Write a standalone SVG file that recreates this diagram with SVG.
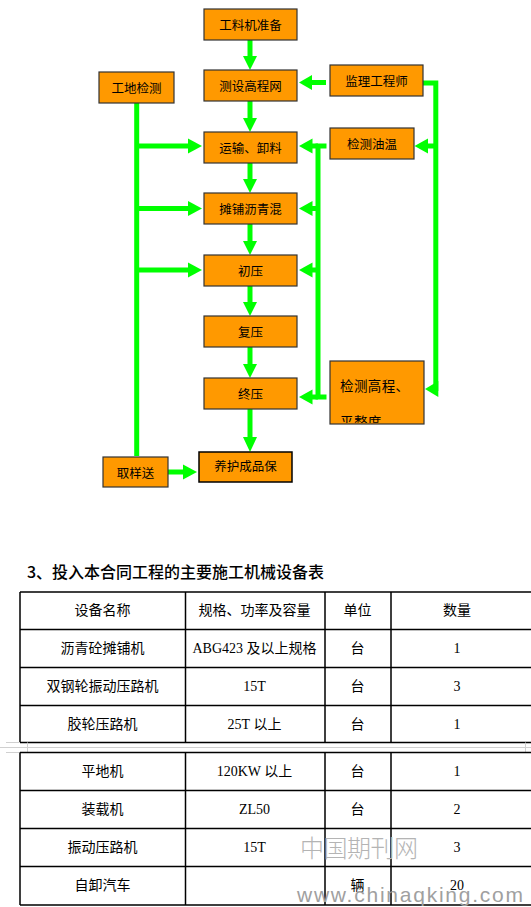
<svg xmlns="http://www.w3.org/2000/svg" width="531" height="907" viewBox="0 0 531 907">
<defs>
<style>
.box{fill:#FF9900;stroke:#333;stroke-width:1.2}
.bt{font-family:"Noto Sans CJK SC","Noto Sans",sans-serif;font-size:12.5px;fill:#000;text-anchor:middle;dominant-baseline:central}
.ln{stroke:#00FF00;stroke-width:5;fill:none}
.ah{fill:#00FF00}
.tb{stroke:#000;stroke-width:1.5;fill:none}
.gr{stroke:#d0d0d0;stroke-width:1;fill:none}
.tt{font-family:"Liberation Serif","Noto Sans CJK SC",serif;font-size:14px;fill:#000;text-anchor:middle;dominant-baseline:central}
</style>
<clipPath id="c1"><rect x="330" y="361" width="94" height="62"/></clipPath>
</defs>
<rect width="531" height="907" fill="#fff"/>

<g id="connectors">
<!-- center flow -->
<line class="ln" x1="250" y1="40" x2="250" y2="58"/><polygon class="ah" points="243,56 257,56 250,70"/>
<line class="ln" x1="250" y1="101" x2="250" y2="120"/><polygon class="ah" points="243,118 257,118 250,132"/>
<line class="ln" x1="250" y1="163" x2="250" y2="181"/><polygon class="ah" points="243,179 257,179 250,193"/>
<line class="ln" x1="250" y1="224" x2="250" y2="243"/><polygon class="ah" points="243,241 257,241 250,255"/>
<line class="ln" x1="250" y1="286" x2="250" y2="304"/><polygon class="ah" points="243,302 257,302 250,316"/>
<line class="ln" x1="250" y1="347" x2="250" y2="366"/><polygon class="ah" points="243,364 257,364 250,378"/>
<line class="ln" x1="250" y1="409" x2="250" y2="440"/><polygon class="ah" points="243,437 257,437 250,452"/>
<!-- left vertical -->
<line class="ln" x1="136.7" y1="103" x2="136.7" y2="456"/>
<line class="ln" x1="136.7" y1="146" x2="190" y2="146"/><polygon class="ah" points="188,138.5 188,153.5 202,146"/>
<line class="ln" x1="136.7" y1="208.5" x2="190" y2="208.5"/><polygon class="ah" points="188,201 188,216 202,208.5"/>
<line class="ln" x1="136.7" y1="270" x2="190" y2="270"/><polygon class="ah" points="188,262.5 188,277.5 202,270"/>
<!-- 取样送 to 养护 -->
<line class="ln" x1="168" y1="472" x2="185" y2="472"/><polygon class="ah" points="183,464.5 183,479.5 197,472"/>
<!-- 监理 to 测设 -->
<line class="ln" x1="326" y1="82.5" x2="310" y2="82.5"/><polygon class="ah" points="312,75 312,90 299,82.5"/>
<!-- 监理 right vertical -->
<polyline class="ln" points="423,83 435.8,83 435.8,391"/>
<line class="ln" x1="435.8" y1="146" x2="426" y2="146"/><polygon class="ah" points="428,138.5 428,153.5 414.5,146"/>
<polygon class="ah" points="438.3,381 438.3,397 425,389"/>
<!-- middle vertical -->
<polyline class="ln" points="326.5,146 318,146 318,397 326.5,397"/>
<line class="ln" x1="318" y1="146" x2="310" y2="146"/><polygon class="ah" points="312.5,138.5 312.5,153.5 299,146"/>
<line class="ln" x1="318" y1="208.5" x2="310" y2="208.5"/><polygon class="ah" points="312.5,201 312.5,216 299,208.5"/>
<line class="ln" x1="318" y1="270" x2="310" y2="270"/><polygon class="ah" points="312.5,262.5 312.5,277.5 299,270"/>
<line class="ln" x1="318" y1="397" x2="310" y2="397"/><polygon class="ah" points="312.5,389.5 312.5,404.5 299,397"/>
</g>

<g id="n1"><rect class="box" x="204" y="9" width="93" height="31"/><text class="bt" x="250.5" y="24.5">工料机准备</text></g>
<g id="n2"><rect class="box" x="204" y="70" width="93" height="31"/><text class="bt" x="250.5" y="85.5">测设高程网</text></g>
<g id="n3"><rect class="box" x="204" y="132" width="93" height="31"/><text class="bt" x="250.5" y="147.5">运输、卸料</text></g>
<g id="n4"><rect class="box" x="204" y="193" width="93" height="31"/><text class="bt" x="250.5" y="208.5">摊铺沥青混</text></g>
<g id="n5"><rect class="box" x="204" y="255" width="93" height="31"/><text class="bt" x="250.5" y="270.5">初压</text></g>
<g id="n6"><rect class="box" x="204" y="316" width="93" height="31"/><text class="bt" x="250.5" y="331.5">复压</text></g>
<g id="n7"><rect class="box" x="204" y="378" width="93" height="31"/><text class="bt" x="250.5" y="393.5">终压</text></g>
<g id="n8"><rect class="box" x="199" y="452" width="93" height="30" style="stroke:#000;stroke-width:1.5"/><text class="bt" x="245.5" y="465">养护成品保</text></g>
<g id="n9"><rect class="box" x="99" y="72" width="75" height="31"/><text class="bt" x="136.5" y="87.5">工地检测</text></g>
<g id="n10"><rect class="box" x="103" y="457" width="65" height="30"/><text class="bt" x="135.5" y="472">取样送</text></g>
<g id="n11"><rect class="box" x="330" y="65" width="93" height="31"/><text class="bt" x="376.5" y="80.5">监理工程师</text></g>
<g id="n12"><rect class="box" x="330" y="128" width="84" height="31"/><text class="bt" x="372" y="143">检测油温</text></g>
<g id="n13"><rect class="box" x="330" y="361" width="94" height="63"/>
<g clip-path="url(#c1)"><text class="bt" x="340" y="385" style="text-anchor:start;font-size:13.5px;letter-spacing:0.4px">检测高程、</text><text class="bt" x="340" y="421" style="text-anchor:start;font-size:13.5px;letter-spacing:0.4px">平整度</text></g></g>

<g id="table">
<text x="27" y="578" style="font-family:'Noto Sans CJK SC','Liberation Sans',sans-serif;font-size:16px;font-weight:500;fill:#000">3、投入本合同工程的主要施工机械设备表</text>
<path class="tb" d="M20,592H531M20,629.5H531M20,667.5H531M20,705.5H531M20,742.5H531M20,592V742.5M185.5,592V742.5M325,592V742.5M391,592V742.5"/>
<path class="gr" d="M6,742.5H20M0,747.5H531M6,752.5H20M27.5,742.5V752.5M525.5,742.5V752.5"/>
<path class="tb" d="M20,752.5H531M20,790.5H531M20,828.5H531M20,866.5H531M20,905H531M20,752.5V905M185.5,752.5V905M325,752.5V905M391,752.5V905"/>
<text class="tt" x="102.5" y="610">设备名称</text><text class="tt" x="254.5" y="610">规格、功率及容量</text><text class="tt" x="357.5" y="610">单位</text><text class="tt" x="457" y="610">数量</text>
<text class="tt" x="102.5" y="648">沥青砼摊铺机</text><text class="tt" x="254.5" y="648">ABG423 及以上规格</text><text class="tt" x="357.5" y="648">台</text><text class="tt" x="457" y="648">1</text>
<text class="tt" x="102.5" y="686">双钢轮振动压路机</text><text class="tt" x="254.5" y="686">15T</text><text class="tt" x="357.5" y="686">台</text><text class="tt" x="457" y="686">3</text>
<text class="tt" x="102.5" y="724">胶轮压路机</text><text class="tt" x="254.5" y="724">25T 以上</text><text class="tt" x="357.5" y="724">台</text><text class="tt" x="457" y="724">1</text>
<text class="tt" x="102.5" y="771.5">平地机</text><text class="tt" x="254.5" y="771.5">120KW 以上</text><text class="tt" x="357.5" y="771.5">台</text><text class="tt" x="457" y="771.5">1</text>
<text class="tt" x="102.5" y="809.5">装载机</text><text class="tt" x="254.5" y="809.5">ZL50</text><text class="tt" x="357.5" y="809.5">台</text><text class="tt" x="457" y="809.5">2</text>
<text class="tt" x="102.5" y="847.5">振动压路机</text><text class="tt" x="254.5" y="847.5">15T</text><text class="tt" x="457" y="847.5">3</text>
<text class="tt" x="102.5" y="885.5">自卸汽车</text><text class="tt" x="357.5" y="885.5">辆</text><text class="tt" x="457" y="885.5">20</text>
</g>

<g id="watermark">
<text x="300" y="857" textLength="118" style="font-family:'Noto Sans CJK SC',sans-serif;font-size:24px;font-weight:300;fill:#b4b4b4">中国期刊网</text>
<text x="297" y="902" textLength="226" style="font-family:'Liberation Sans',sans-serif;font-size:21px;fill:#a0a0a0">www.chinaqking.com</text>
</g>
</svg>
